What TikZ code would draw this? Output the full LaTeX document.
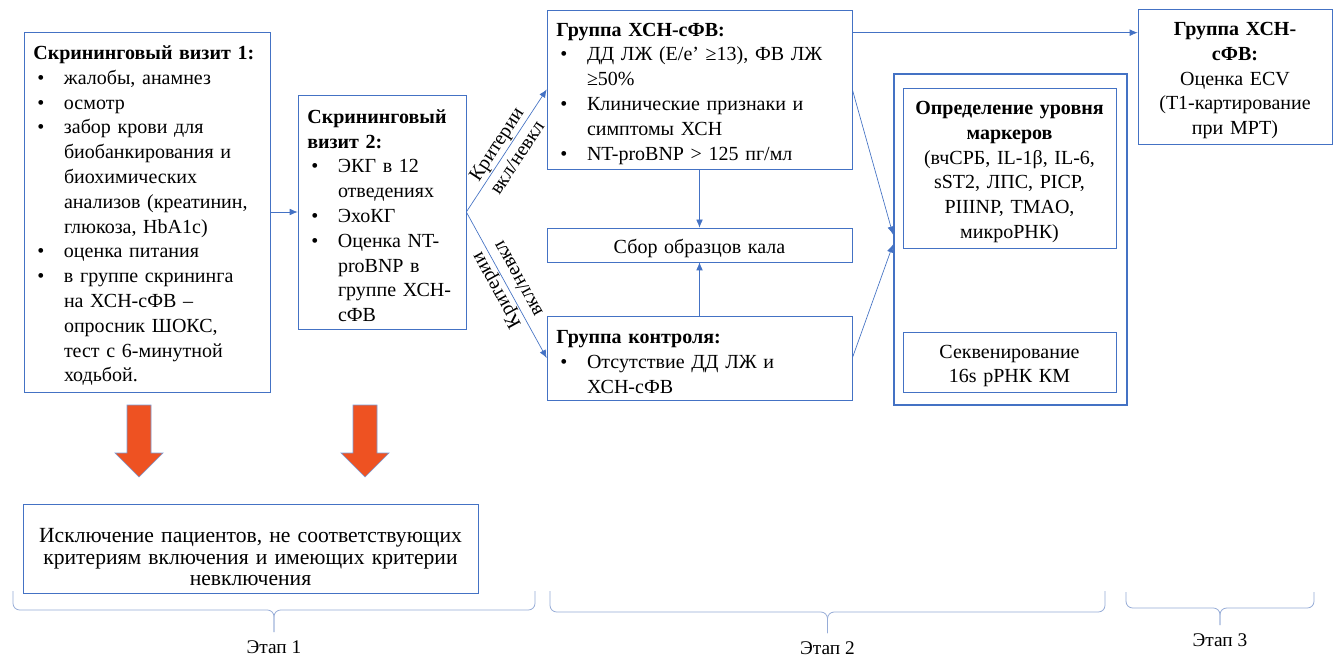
\documentclass[tikz,border=0pt]{standalone}
\usepackage{fontspec}
\setmainfont{Liberation Serif}
\usetikzlibrary{arrows.meta}
\tikzset{>={Latex[length=6pt,width=5pt]}}
\definecolor{boxblue}{RGB}{68,114,196}
\definecolor{bracegray}{RGB}{150,172,215}
\definecolor{redfill}{RGB}{238,82,34}
\newcommand{\txt}{\fontsize{15pt}{18.6pt}\selectfont}
\newcommand{\bul}[1]{\makebox[23pt][l]{\hspace{3pt}•}\mbox{#1}}
\newcommand{\ind}[1]{\hspace*{23pt}\mbox{#1}}
\tikzset{%
    box/.style={draw=boxblue,line width=0.5pt,fill=white,font=\txt,%
        inner xsep=7pt,inner ysep=0pt,align=left,%
        execute at begin node={\rule{0pt}{16pt}}},%
    cbox/.style={box,inner xsep=3pt,align=center},%
    lbl/.style={font=\txt,align=center,inner sep=0pt},%
    link/.style={->,draw=boxblue,line width=0.5pt},%
    brace/.style={draw=bracegray,line width=0.6pt,rounded corners=5pt},%
    etap/.style={font=\fontsize{14.5pt}{17pt}\selectfont}%
}
\newcommand{\DownArrow}[1]{%
  \begin{scope}[shift={#1}]
    \filldraw[fill=redfill,draw=boxblue!70,line width=0.5pt]
      (-12,0) -- (12,0) -- (12,48) -- (24,48) -- (0,72) -- (-24,48) -- (-12,48) -- cycle;
  \end{scope}
}

\begin{document}
\begin{tikzpicture}[x=0.75pt,y=-0.75pt]
  \path[use as bounding box,fill=white] (0,0) rectangle (1338,659);
  % stage 1
  \node[box,text width=170.5pt,minimum height=270pt] (vis1) at (147,212) {%
    \mbox{\bfseries Скрининговый визит 1:}\\
    \bul{жалобы, анамнез}\\
    \bul{осмотр}\\
    \bul{забор крови для}\\
    \ind{биобанкирования и}\\
    \ind{биохимических}\\
    \ind{анализов (креатинин,}\\
    \ind{глюкоза, HbA1c)}\\
    \bul{оценка питания}\\
    \bul{в группе скрининга}\\
    \ind{на ХСН-сФВ –}\\
    \ind{опросник ШОКС,}\\
    \ind{тест с 6-минутной}\\
    \ind{ходьбой.}};
  \node[box,text width=112pt,minimum height=175.5pt] (vis2) at (382,212) {%
    \mbox{\bfseries Скрининговый}\\
    \mbox{\bfseries визит 2:}\\
    \bul{ЭКГ в 12}\\
    \ind{отведениях}\\
    \bul{ЭхоКГ}\\
    \bul{Оценка NT-}\\
    \ind{proBNP в}\\
    \ind{группе ХСН-}\\
    \ind{сФВ}};
  \node[cbox,text width=335.25pt,minimum height=66.75pt,font=\fontsize{16.2pt}{16.1pt}\selectfont] (excl) at (250.5,548.5) {%
    \rule{0pt}{24pt}Исключение пациентов, не соответствующих\\
    критериям включения и имеющих критерии\\
    невключения};
  \DownArrow{(139,405)}
  \DownArrow{(365,405)}
  % stage 2
  \node[box,text width=214.75pt,minimum height=119.25pt] (grpA) at (699.5,89.5) {%
    \mbox{\bfseries Группа ХСН-сФВ:}\\
    \bul{ДД ЛЖ (E/e’ ≥13), ФВ ЛЖ}\\
    \ind{≥50\%}\\
    \bul{Клинические признаки и}\\
    \ind{симптомы ХСН}\\
    \bul{NT-proBNP > 125 пг/мл}};
  \node[cbox,text width=222.75pt,minimum height=25.5pt] (stool) at (699.5,245) {Сбор образцов кала};
  \node[box,text width=214.75pt,minimum height=63pt] (ctrl) at (699.5,358) {%
    \mbox{\bfseries Группа контроля:}\\
    \bul{Отсутствие ДД ЛЖ и}\\
    \ind{ХСН-сФВ}};
  \node[draw=boxblue,line width=1.5pt,minimum width=174.75pt,minimum height=248.25pt] (mk) at (1010.5,239.5) {};
  \node[cbox,text width=153.75pt,minimum height=120pt] (mark) at (1009.5,168) {%
    {\bfseries Определение уровня\\маркеров}\\
    (вчСРБ, IL-1β, IL-6,\\
    sST2, ЛПС, PICP,\\
    PIIINP, TMAO,\\
    микроРНК)};
  \node[cbox,text width=153.75pt,minimum height=45pt] (seq) at (1009.5,362) {%
    Секвенирование\\16s рРНК КМ};
  % stage 3
  \node[cbox,text width=139.5pt,minimum height=101.25pt] (ecv) at (1235,76.5) {%
    {\bfseries Группа ХСН-\\сФВ:}\\
    Оценка ECV\\
    (T1-картирование\\
    при МРТ)};

  \draw[link] (vis1) -- (vis2);
  \draw[link] (vis2.east) -- (grpA.west) node[lbl,midway,sloped] {Критерии\\вкл/невкл};
  \draw[link] (vis2.east) -- (ctrl.west) node[lbl,midway,sloped,rotate=180] {Критерии\\вкл/невкл};
  \draw[link] (grpA) -- (stool);
  \draw[link] (ctrl) -- (stool);
  \draw[link] (grpA.east) -- ([yshift=3.75pt]mk.west);
  \draw[link] (ctrl.east) -- ([yshift=-3.75pt]mk.west);
  \coordinate (t1) at ([yshift=-17.25pt]grpA.north east);
  \draw[link] (t1) -- (t1 -| ecv.west);

  % braces under the stages
  \foreach \l/\r/\t/\b/\tp/\ly/\n in {13/535/591/610/632/647/1, 550/1105/591/612/633/648/2, 1126/1314/592/608/625/640/3} {
    \pgfmathsetmacro{\m}{(\l+\r)/2}
    \draw[brace] (\l,\t) -- (\l,\b) -- (\m,\b) -- (\m,\tp);
    \draw[brace] (\r,\t) -- (\r,\b) -- (\m,\b) -- (\m,\tp);
    \node[etap] (etap\n) at (\m,\ly) {Этап \n};
  }
\end{tikzpicture}
\end{document}
